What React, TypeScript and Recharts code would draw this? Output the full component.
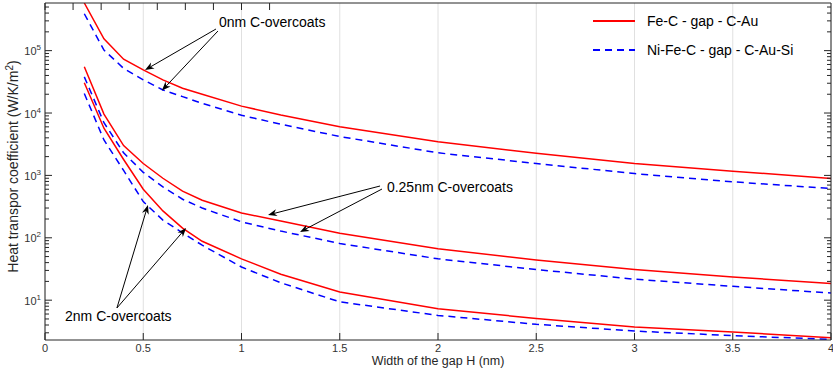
import {
  LineChart,
  Line,
  XAxis,
  YAxis,
  CartesianGrid,
  Legend,
  ReferenceLine,
  ReferenceDot,
} from 'recharts';

// gap width H (nm)
const gapWidth = [0.2, 0.3, 0.4, 0.5, 0.6, 0.7, 0.8, 1, 1.2, 1.5, 2, 2.5, 3, 3.5, 4];

// heat transfer coefficient (W/K/m^2)
const fe0 = [5.8e5, 1.55e5, 7.3e4, 4.9e4, 3.4e4, 2.5e4, 2.0e4, 1.29e4, 9.3e3, 6.0e3, 3.46e3, 2.26e3, 1.55e3, 1.17e3, 890];
const ni0 = [3.9e5, 1.02e5, 5.2e4, 3.4e4, 2.34e4, 1.83e4, 1.43e4, 9.2e3, 6.6e3, 4.2e3, 2.3e3, 1.55e3, 1.07e3, 790, 615];
const fe025 = [5.5e4, 9.6e3, 3.0e3, 1.55e3, 900, 560, 400, 250, 186, 118, 67, 44, 31, 23.6, 18.5];
const ni025 = [3.8e4, 7.0e3, 2.3e3, 1.12e3, 655, 415, 300, 180, 128, 81, 46, 31, 21.7, 16.7, 13];
const fe2 = [3.05e4, 5.7e3, 1.8e3, 600, 270, 143, 88, 46, 26, 13.5, 7.3, 5.1, 3.7, 3.1, 2.5];
const ni2 = [2.05e4, 3.7e3, 1.2e3, 380, 192, 120, 76, 34, 19, 9.4, 5.7, 4.1, 3.2, 2.7, 2.35];

const xTicks = [0, 0.5, 1, 1.5, 2, 2.5, 3, 3.5, 4];
const xTickLabels = ['0', '0.5', '1', '1.5', '2', '2.5', '3', '3.5', '4'];
const yDomain = [2.3, 5.8e5];
const yExponents = [0, 1, 2, 3, 4, 5];

const seriesA = 'Fe-C - gap - C-Au';
const seriesB = 'Ni-Fe-C - gap - C-Au-Si';

// annotations, in data units
const labels = [
  { text: '0nm C-overcoats', x: 0.885, y: 2.87e5 },
  { text: '0.25nm C-overcoats', x: 1.74, y: 651 },
  { text: '2nm C-overcoats', x: 0.102, y: 5.57 },
];
const arrows = [
  { x1: 0.87, y1: 2.22e5, x2: 0.509, y2: 4.89e4 },
  { x1: 0.88, y1: 2.06e5, x2: 0.595, y2: 2.29e4 },
  { x1: 1.705, y1: 676, x2: 1.135, y2: 232 },
  { x1: 1.715, y1: 605, x2: 1.298, y2: 124 },
  { x1: 0.366, y1: 7.49, x2: 0.524, y2: 335 },
  { x1: 0.366, y1: 7.49, x2: 0.718, y2: 144 },
];

const data = gapWidth.map((h, i) => ({
  h,
  fe0: fe0[i],
  ni0: ni0[i],
  fe025: fe025[i],
  ni025: ni025[i],
  fe2: fe2[i],
  ni2: ni2[i],
}));

const yTicks: number[] = [];
yExponents.forEach((e) => {
  for (let m = 1; m <= 9; m++) {
    const v = m * Math.pow(10, e);
    if (v >= yDomain[0] && v <= yDomain[1]) yTicks.push(v);
  }
});

const FONT = '"Liberation Sans", Arial, Helvetica, sans-serif';
const AXIS = '#262626';
const RED = '#ff0000';
const BLUE = '#0000ff';
const DASH = '7 5';

const isMajor = (v: number) => {
  const e = Math.round(Math.log10(v));
  return Math.abs(v - Math.pow(10, e)) < 1e-6 * v;
};

const LeftTick = ({ x, y, payload }: any) => {
  const v = payload.value;
  const major = isMajor(v);
  const e = Math.round(Math.log10(v));
  return (
    <g>
      <line x1={x} x2={x + (major ? 7 : 4)} y1={y} y2={y} stroke={AXIS} />
      {major && (
        <text x={x - 4} y={y + 4.5} textAnchor="end" fontSize={11} fill="#333" fontFamily={FONT}>
          10<tspan dy={-5} fontSize={8}>{e}</tspan>
        </text>
      )}
    </g>
  );
};

const RightTick = ({ x, y, payload }: any) => {
  const major = isMajor(payload.value);
  return <line x1={x} x2={x - (major ? 7 : 4)} y1={y} y2={y} stroke={AXIS} />;
};

const BottomTick = ({ x, y, payload, index }: any) => (
  <g>
    <line x1={x} x2={x} y1={y} y2={y - 7} stroke={AXIS} />
    <text x={x} y={y + 12} textAnchor="middle" fontSize={11} fill="#333" fontFamily={FONT}>
      {xTickLabels[index] ?? String(payload.value)}
    </text>
  </g>
);

const TopTick = ({ x, y }: any) => <line x1={x} x2={x} y1={y} y2={y + 7} stroke={AXIS} />;

const YLabel = ({ viewBox }: any) => {
  const cx = viewBox.x + 18;
  const cy = viewBox.y + viewBox.height / 2 - 5;
  return (
    <text
      x={cx}
      y={cy}
      transform={`rotate(-90 ${cx} ${cy})`}
      textAnchor="middle"
      fontSize={14}
      fill="#262626"
      fontFamily={FONT}
    >
      Heat transpor coefficient (W/K/m<tspan dy={-5} fontSize={10}>2</tspan>
      <tspan dy={5}>)</tspan>
    </text>
  );
};

const Arrow = (p: any) => {
  const { x1, y1, x2, y2 } = p;
  const a = Math.atan2(y2 - y1, x2 - x1);
  const L = 9;
  const W = 3.5;
  const c = Math.cos(a);
  const s = Math.sin(a);
  const bx = x2 - L * c;
  const by = y2 - L * s;
  const nx = x2 - L * 0.7 * c;
  const ny = y2 - L * 0.7 * s;
  const pts = `${x2},${y2} ${bx + W * s},${by - W * c} ${nx},${ny} ${bx - W * s},${by + W * c}`;
  return (
    <g>
      <line x1={x1} y1={y1} x2={nx} y2={ny} stroke="#000" strokeWidth={1} />
      <polygon points={pts} fill="#000" />
    </g>
  );
};

const LabelText = (text: string) => (p: any) => (
  <text x={p.cx} y={p.cy} dy="0.35em" fontSize={14} fill="#000" fontFamily={FONT}>
    {text}
  </text>
);

const renderLegend = ({ payload }: any) => (
  <div style={{ fontFamily: FONT, fontSize: 14, color: '#000' }}>
    {(payload || [])
      .filter((p: any) => p.value === seriesA || p.value === seriesB)
      .map((p: any) => (
        <div key={p.value} style={{ display: 'flex', alignItems: 'center', height: 29 }}>
          <svg width={42} height={4} style={{ display: 'block' }}>
            <line
              x1={0}
              y1={2}
              x2={42}
              y2={2}
              stroke={p.color}
              strokeWidth={2}
              strokeDasharray={p.value === seriesB ? DASH : undefined}
            />
          </svg>
          <span style={{ marginLeft: 12 }}>{p.value}</span>
        </div>
      ))}
  </div>
);

const App = () => {
  return (
    <div style={{ position: 'absolute', left: 0, top: 0, background: '#fff' }}>
      <LineChart width={833} height={370} data={data} margin={{ top: 0, right: 0, bottom: 0, left: 0 }}>
        <CartesianGrid horizontal={false} stroke="#e0e0e0" />
        <XAxis
          dataKey="h"
          type="number"
          domain={[0, 4]}
          ticks={xTicks}
          interval={0}
          allowDataOverflow
          height={30}
          tickSize={0}
          tickMargin={0}
          tickLine={false}
          tick={BottomTick}
          axisLine={{ stroke: AXIS }}
          label={{
            value: 'Width of the gap H (nm)',
            position: 'insideBottom',
            offset: 5,
            style: { fontSize: 12.5, fill: '#262626', fontFamily: FONT },
          }}
        />
        <XAxis
          xAxisId="top"
          orientation="top"
          type="number"
          domain={[0, 4]}
          ticks={xTicks}
          interval={0}
          allowDataOverflow
          height={3}
          tickSize={0}
          tickMargin={0}
          tickLine={false}
          tick={TopTick}
          axisLine={{ stroke: AXIS }}
        />
        <YAxis
          scale="log"
          type="number"
          domain={yDomain}
          ticks={yTicks}
          interval={0}
          allowDataOverflow
          width={45}
          tickSize={0}
          tickMargin={0}
          tickLine={false}
          tick={LeftTick}
          axisLine={{ stroke: AXIS }}
          label={YLabel}
        />
        <YAxis
          yAxisId="right"
          orientation="right"
          scale="log"
          type="number"
          domain={yDomain}
          ticks={yTicks}
          interval={0}
          allowDataOverflow
          width={2}
          tickSize={0}
          tickMargin={0}
          tickLine={false}
          tick={RightTick}
          axisLine={{ stroke: AXIS }}
        />
        <Legend
          layout="vertical"
          align="center"
          verticalAlign="middle"
          content={renderLegend}
          wrapperStyle={{ position: 'absolute', left: 593, top: 6, width: 240 }}
        />
        <Line dataKey="fe0" name={seriesA} stroke={RED} strokeWidth={1.5} dot={false} type="linear" isAnimationActive={false} />
        <Line dataKey="ni0" name={seriesB} stroke={BLUE} strokeWidth={1.5} strokeDasharray={DASH} dot={false} type="linear" isAnimationActive={false} />
        <Line dataKey="fe025" legendType="none" stroke={RED} strokeWidth={1.5} dot={false} type="linear" isAnimationActive={false} />
        <Line dataKey="ni025" legendType="none" stroke={BLUE} strokeWidth={1.5} strokeDasharray={DASH} dot={false} type="linear" isAnimationActive={false} />
        <Line dataKey="fe2" legendType="none" stroke={RED} strokeWidth={1.5} dot={false} type="linear" isAnimationActive={false} />
        <Line dataKey="ni2" legendType="none" stroke={BLUE} strokeWidth={1.5} strokeDasharray={DASH} dot={false} type="linear" isAnimationActive={false} />
        {arrows.map((a, i) => (
          <ReferenceLine
            key={`arrow-${i}`}
            segment={[
              { x: a.x1, y: a.y1 },
              { x: a.x2, y: a.y2 },
            ]}
            shape={Arrow}
            ifOverflow="visible"
          />
        ))}
        {labels.map((l) => (
          <ReferenceDot key={l.text} x={l.x} y={l.y} r={0} shape={LabelText(l.text)} ifOverflow="visible" />
        ))}
      </LineChart>
    </div>
  );
};

export default App;
